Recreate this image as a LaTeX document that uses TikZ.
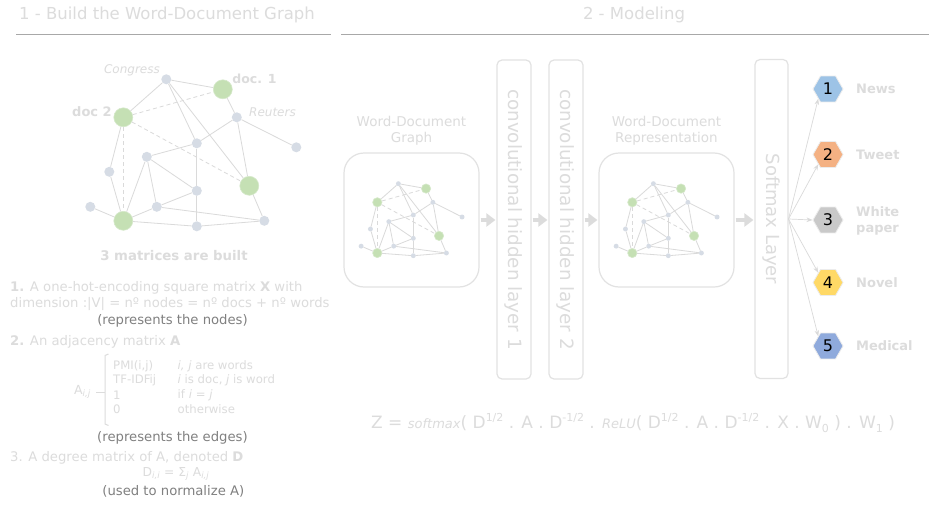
\documentclass[tikz,border=0pt]{standalone}
\usepackage{fontspec}
\setmainfont{DejaVu Sans}
\usetikzlibrary{shapes.geometric,arrows.meta}
\definecolor{pale}{HTML}{DCDCDC}
\definecolor{midgray}{HTML}{808080}
\definecolor{rulegray}{HTML}{A8A8A8}
\definecolor{edgegray}{HTML}{DADADA}
\definecolor{boxgray}{HTML}{E2E2E2}
\definecolor{docgreen}{HTML}{C5E0B4}
\definecolor{wordgray}{HTML}{D6DCE5}
\definecolor{hexA}{HTML}{9DC3E6}
\definecolor{hexB}{HTML}{F4B183}
\definecolor{hexC}{HTML}{C9C9C9}
\definecolor{hexD}{HTML}{FFD966}
\definecolor{hexE}{HTML}{8FAADC}
\newcommand\fsz[2]{\fontsize{#1}{#2}\selectfont}
\newcommand\upsc[1]{\raisebox{0.42em}{\fsz{11}{12}#1}}
\newcommand\dnsc[1]{\raisebox{-0.25em}{\fsz{11}{12}#1}}
\tikzset{
  docnode/.style={circle,fill=docgreen,draw=docgreen!70!white,line width=0.6,minimum size=19,inner sep=0},
  wordnode/.style={circle,fill=wordgray,draw=none,minimum size=10,inner sep=0},
  gedge/.style={draw=edgegray,line width=0.8},
  gdash/.style={draw=edgegray,line width=0.8,dash pattern=on 4pt off 3pt},
  lbl/.style={text=pale,inner sep=0},
  roundbox/.style={draw=boxgray,line width=1.2,rounded corners=20,minimum width=135,minimum height=134,inner sep=0},
  layerbox/.style={draw=boxgray,line width=1.2,rounded corners=5,rotate=-90,minimum width=319,minimum height=34,inner sep=0,text=pale},
  fatarrow/.style={draw=pale,line width=4.5,-{Triangle[length=9,width=13]},shorten <=1,shorten >=1},
  thinarrow/.style={draw=edgegray,line width=0.7,-{Stealth[length=6,width=4.5]}},
  hexnode/.style={regular polygon,regular polygon sides=6,minimum size=30,inner sep=0,draw=white!85!gray,line width=0.8,font=\fsz{16}{18}},
  catlbl/.style={text=pale,font=\fsz{13}{16}\bfseries,anchor=west,inner sep=0,align=left},
  txt/.style={text=pale,font=\fsz{13.2}{15},anchor=west,inner sep=0},
  note/.style={text=midgray,font=\fsz{13.2}{15},inner sep=0},
}
\newcommand\wdgraph[4]{%
\begin{scope}[shift={(#2,#3)},scale=#4,transform shape]
  \node[wordnode] (#1c)  at (43,-38) {};
  \node[docnode]  (#1d1) at (99.5,-28) {};
  \node[docnode]  (#1d2) at (0,0) {};
  \node[wordnode] (#1r)  at (113.5,0) {};
  \node[wordnode] (#1fr) at (173,30) {};
  \node[wordnode] (#1m)  at (73.5,26) {};
  \node[wordnode] (#1lm) at (23.5,39.5) {};
  \node[wordnode] (#1l)  at (-14,54.5) {};
  \node[docnode]  (#1gr) at (126,68.5) {};
  \node[wordnode] (#1m2) at (73.5,73.5) {};
  \node[wordnode] (#1fl) at (-33,89.5) {};
  \node[wordnode] (#1n)  at (33.5,89.5) {};
  \node[docnode]  (#1gb) at (0,103.5) {};
  \node[wordnode] (#1m3) at (73.5,109) {};
  \node[wordnode] (#1rr) at (141,103.5) {};
  \draw[gedge] (#1c) -- (#1d2);
  \draw[gedge] (#1c) -- (#1d1);
  \draw[gedge] (#1c) -- (#1m);
  \draw[gedge] (#1c) -- (#1gr);
  \draw[gedge] (#1d1) -- (#1r);
  \draw[gdash] (#1d2) -- (#1d1);
  \draw[gdash] (#1d2) -- (#1gr);
  \draw[gdash] (#1d2) -- (#1gb);
  \draw[gedge] (#1d2) -- (#1l);
  \draw[gedge] (#1r) -- (#1fr);
  \draw[gedge] (#1r) -- (#1m);
  \draw[gedge] (#1m) -- (#1lm);
  \draw[gedge] (#1r) -- (#1gr);
  \draw[gedge] (#1m) -- (#1m2);
  \draw[gedge] (#1m2) -- (#1m3);
  \draw[gedge] (#1lm) -- (#1m2);
  \draw[gedge] (#1lm) -- (#1n);
  \draw[gedge] (#1lm) -- (#1gb);
  \draw[gedge] (#1l) -- (#1gb);
  \draw[gedge] (#1fl) -- (#1gb);
  \draw[gedge] (#1gb) -- (#1n);
  \draw[gedge] (#1gb) -- (#1m3);
  \draw[gedge] (#1n) -- (#1m2);
  \draw[gedge] (#1n) -- (#1rr);
  \draw[gedge] (#1m3) -- (#1rr);
  \draw[gedge] (#1gr) -- (#1rr);
\end{scope}}
\begin{document}
\begin{tikzpicture}[x=1pt,y=-1pt]
\useasboundingbox (0,0) rectangle (929,506);
\fill[white] (0,0) rectangle (929,506);
% headers
\node[lbl,font=\fsz{16.5}{19}] (h1title) at (167,15) {1 - Build the Word-Document Graph};
\node[lbl,font=\fsz{16.5}{19}] (h2title) at (634,15) {2 - Modeling};
\draw[rulegray,line width=1] (16,34) -- (331,34);
\draw[rulegray,line width=1] (341,34) -- (929,34);
% big graph
\wdgraph{g}{123.3}{117.3}{1}
\node[lbl,font=\fsz{12}{14}\itshape] (lcong) at (132,70) {Congress};
\node[lbl,font=\fsz{12.5}{14}\bfseries] (ldoc1) at (254.5,78.5) {doc. 1};
\node[lbl,font=\fsz{13}{15}\bfseries] (ldoc2) at (92,111.5) {doc 2};
\node[lbl,font=\fsz{12}{14}\itshape] (lreut) at (272.5,112) {Reuters};
\node[lbl,font=\fsz{13.3}{15}\bfseries] (lmat) at (174,256) {3 matrices are built};
% text block
\node[txt] (t1) at (10,288) {{\bfseries 1.} A one-hot-encoding square matrix {\bfseries X} with};
\node[txt] (t2) at (10,304) {dimension :|V| = nº nodes = nº docs + nº words};
\node[note] (t3) at (172.5,321) {(represents the nodes)};
\node[txt] (t4) at (10,341.5) {{\bfseries 2.} An adjacency matrix {\bfseries A}};
\node[lbl,font=\fsz{12.5}{14},anchor=east] (aij) at (91,392) {A\textsubscript{\itshape i,j}};
\draw[pale,line width=1] (108.5,354) -- (105,355.5) -- (105,424) -- (108.5,425.5);
\draw[pale,line width=1] (96,392) -- (105,392);
\begin{scope}[every node/.style={lbl,font=\fsz{11.7}{13},anchor=west}]
\node (c11) at (113,366) {PMI(i,j)};
\node (c21) at (113,380) {TF-IDFij};
\node (c31) at (113,395) {1};
\node (c41) at (113,409) {0};
\node (c12) at (177.5,366) {\itshape i, j\upshape\ are words};
\node (c22) at (177.5,380) {\itshape i\upshape\ is doc, \itshape j\upshape\ is word};
\node (c32) at (177.5,395) {if \itshape i = j};
\node (c42) at (177.5,409) {otherwise};
\end{scope}
\node[note] (t5) at (172.5,437.5) {(represents the edges)};
\node[txt] (t6) at (10,458) {3. A degree matrix of A, denoted {\bfseries D}};
\node[lbl,font=\fsz{12.3}{14}] (t7) at (176,474) {D\textsubscript{\itshape i,i} = Σ\textsubscript{\itshape j} A\textsubscript{\itshape i,j}};
\node[note] (t8) at (173.3,491) {(used to normalize A)};
% modeling
\node[lbl,font=\fsz{13.5}{16},align=center] (lb1) at (411.5,131) {Word-Document\\Graph};
\node[roundbox] (box1) at (411.5,220) {};
\wdgraph{s}{377.3}{202.3}{0.49}
\node[layerbox,font=\fsz{18.3}{20}] (l1) at (514,219.5) {convolutional hidden layer 1};
\node[layerbox,font=\fsz{18.3}{20}] (l2) at (566,219.5) {convolutional hidden layer 2};
\node[lbl,font=\fsz{13.5}{16},align=center] (lb2) at (666.5,131) {Word-Document\\Representation};
\node[roundbox] (box2) at (666.5,220) {};
\wdgraph{t}{632.3}{202.3}{0.49}
\node[layerbox,minimum height=33,font=\fsz{18}{22}] (sm) at (771.5,219) {Softmax Layer};
\draw[fatarrow] (box1.east) -- (box1.east -| l1.south);
\draw[fatarrow] (box1.east -| l1.north) -- (box1.east -| l2.south);
\draw[fatarrow] (box1.east -| l2.north) -- (box2.west);
\draw[fatarrow] (box2.east) -- (box2.east -| sm.south);
% outputs
\node[hexnode,fill=hexA] (x1) at (828,89) {1};
\node[hexnode,fill=hexB] (x2) at (828,154.5) {2};
\node[hexnode,fill=hexC] (x3) at (828,220) {3};
\node[hexnode,fill=hexD] (x4) at (828,282.5) {4};
\node[hexnode,fill=hexE] (x5) at (828,346) {5};
\node[catlbl] (n1) at (856,89) {News};
\node[catlbl] (n2) at (856,154.5) {Tweet};
\node[catlbl] (n3) at (856,220.5) {White\\paper};
\node[catlbl] (n4) at (856,282.5) {Novel};
\node[catlbl] (n5) at (856,346) {Medical};
\coordinate (smout) at (788.5,219);
\draw[thinarrow] (smout) -- (x1.south west);
\draw[thinarrow] (smout) -- (x2.south west);
\draw[thinarrow] (smout) -- (x3.west);
\draw[thinarrow] (smout) -- (x4.north west);
\draw[thinarrow] (smout) -- (x5.north west);
% formula
\node[lbl,font=\fsz{17}{20},anchor=west] (formula) at (371,423) {Z = {\fsz{13}{15}\itshape softmax}( D\upsc{1/2} . A . D\upsc{-1/2} . {\fsz{13}{15}\itshape ReLU}( D\upsc{1/2} . A . D\upsc{-1/2} . X . W\dnsc{0} ) . W\dnsc{1} )};
\end{tikzpicture}
\end{document}
